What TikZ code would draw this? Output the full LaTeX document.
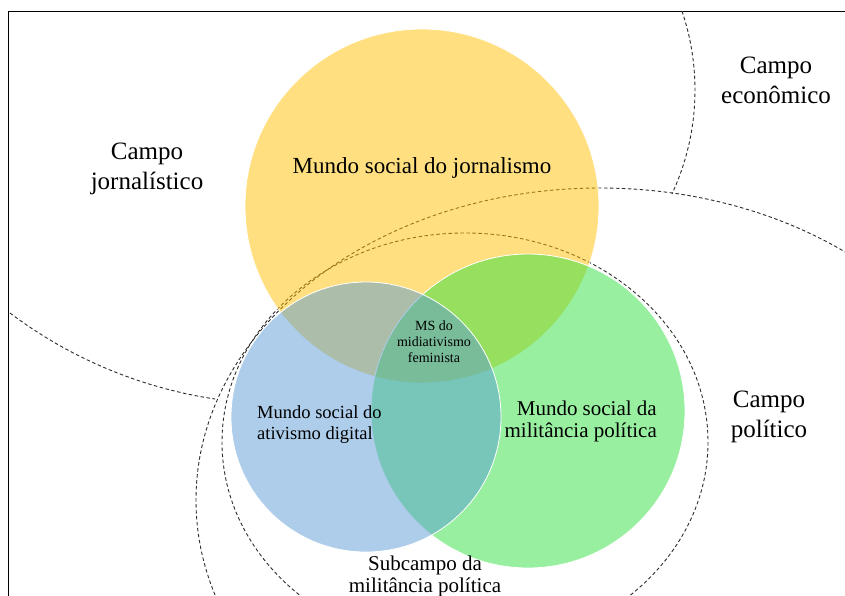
\documentclass[tikz,border=0pt]{standalone}
\usepackage{fontspec}
\setmainfont{Liberation Serif}
\usepackage{tikz}

\definecolor{jornyellow}{RGB}{255,192,0}
\definecolor{militgreen}{RGB}{48,224,64}
\definecolor{ativblue}{RGB}{91,155,213}
\definecolor{fieldgray}{RGB}{45,45,45}

\begin{document}
\begin{tikzpicture}[x=1pt, y=-1pt,
    worldcircle/.style={draw=white, line width=0.8pt, fill opacity=0.5},
    fieldline/.style={draw=fieldgray, line width=0.9pt, dash pattern=on 3.5pt off 2.5pt},
    camplabel/.style={align=center, inner sep=0pt, font=\fontsize{25}{30}\selectfont},
    worldlabel/.style={align=center, inner sep=0pt, font=\fontsize{21}{22}\selectfont},
    mslabel/.style={align=center, inner sep=0pt, font=\fontsize{14}{16}\selectfont},
]
\useasboundingbox (0,0) rectangle (845,595);
\clip (0,0) rectangle (845,595);
% frame
\draw[line width=1pt] (8.5,600) -- (8.5,11) -- (850,11);
% field borders
\draw[fieldline] (282,-48) ++(127:452) arc[start angle=127, end angle=98.5, radius=452];
\draw[fieldline] (449,90) ++(-18.7:246) arc[start angle=-18.7, end angle=25, radius=246];
\draw[fieldline] (600,500) ellipse[x radius=404, y radius=312];
\draw[fieldline] (465,442) ellipse[x radius=243, y radius=209];
% social worlds
\filldraw[worldcircle, fill=jornyellow] (422,206) circle[radius=177];
\filldraw[worldcircle, fill=militgreen] (528,411) circle[radius=157];
\filldraw[worldcircle, fill=ativblue] (366,417) circle[radius=135];
% labels
\node[camplabel] (cjorn) at (147,169) {Campo\\jornalístico};
\node[camplabel] (cecon) at (776,80) {Campo\\econômico};
\node[camplabel] (cpol) at (769,417) {Campo\\político};
\node[worldlabel, font=\fontsize{23}{25}\selectfont] (mjorn) at (422,168) {Mundo social do jornalismo};
\node[worldlabel, align=left, anchor=west, font=\fontsize{18.5}{21}\selectfont] (mativ) at (257,425) {Mundo social do\\ativismo digital};
\node[worldlabel, align=right, anchor=east] (mmilit) at (657,421) {Mundo social da\\militância política};
\node[worldlabel] (submilit) at (425,576) {Subcampo da\\militância política};
\node[mslabel] (msmid) at (434,342) {MS do\\midiativismo\\feminista};
\end{tikzpicture}
\end{document}
